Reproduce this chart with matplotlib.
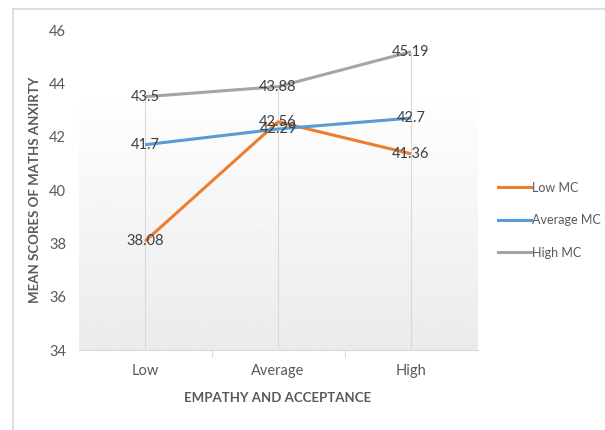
import numpy as np
import matplotlib
matplotlib.use('Agg')
import matplotlib.pyplot as plt
from matplotlib.lines import Line2D

plt.rcParams['font.family'] = ['Lato', 'DejaVu Sans']

categories = ['Low', 'Average', 'High']
low_mc = [38.08, 42.56, 41.36]
average_mc = [41.7, 42.29, 42.7]
high_mc = [43.5, 43.88, 45.19]
series_names = ['Low MC', 'Average MC', 'High MC']
colors = ['#ED7D31', '#5B9BD5', '#A5A5A5']
yticks = [34, 36, 38, 40, 42, 44, 46]

text_color = '#595959'

fig = plt.figure(figsize=(6.05, 4.3), dpi=100)
ax = fig.add_axes([0.1298, 0.186, 0.6595, 0.744])

x = np.arange(len(categories))
ax.set_xlim(-0.5, 2.5)
ax.set_ylim(34, 46)

# gradient background of the plot area
grad = np.linspace(0.92, 1.0, 256).reshape(-1, 1)
ax.imshow(grad, extent=(-0.5, 2.5, 34, 43.9), origin='lower', cmap='gray',
          vmin=0, vmax=1, aspect='auto', zorder=0)

# drop lines from the highest point down to the axis
tops = np.max([low_mc, average_mc, high_mc], axis=0)
ax.vlines(x, 34, tops, color='#d9d9d9', lw=0.8, zorder=1)

for vals, name, c in zip([low_mc, average_mc, high_mc], series_names, colors):
    ax.plot(x, vals, color=c, lw=2.2, label=name, zorder=3, solid_capstyle='butt')
    for xi, v in zip(x, vals):
        ax.text(xi, v, f'{v:g}', ha='center', va='center', fontsize=10.5,
                color='#404040', zorder=4)

ax.set_yticks(yticks)
ax.set_xticks(x)
ax.set_xticklabels(categories)
ax.set_xticks([0.5, 1.5], minor=True)
ax.tick_params(axis='y', length=0, pad=9, labelsize=10.5, labelcolor=text_color)
ax.tick_params(axis='x', which='major', length=0, pad=10, labelsize=10.5, labelcolor=text_color)
ax.tick_params(axis='x', which='minor', length=5, color='#d9d9d9', width=0.8)

for s in ['top', 'right', 'left']:
    ax.spines[s].set_visible(False)
ax.spines['bottom'].set_color('#d9d9d9')
ax.spines['bottom'].set_linewidth(0.8)

ax.set_ylabel('MEAN SCORES OF MATHS ANXIRTY', fontsize=9.5, fontweight='bold',
              color=text_color, labelpad=6)
ax.set_xlabel('EMPATHY AND ACCEPTANCE', fontsize=9.5, fontweight='bold',
              color=text_color, labelpad=10)

handles = [Line2D([0], [0], color=c, lw=2.2) for c in colors]
fig.legend(handles, series_names, loc='center left', bbox_to_anchor=(0.815, 0.488),
           frameon=False, fontsize=9, handlelength=2.6, handletextpad=0.15,
           labelspacing=1.65, labelcolor=text_color, borderaxespad=0)

# page ruler lines around the figure
fig.add_artist(Line2D([0.022, 1.0], [0.979, 0.979], color='#d9d9d9', lw=1.2))
fig.add_artist(Line2D([0.022, 0.022], [0.0, 0.979], color='#d9d9d9', lw=1.2))

fig.savefig('out.png', dpi=100)
